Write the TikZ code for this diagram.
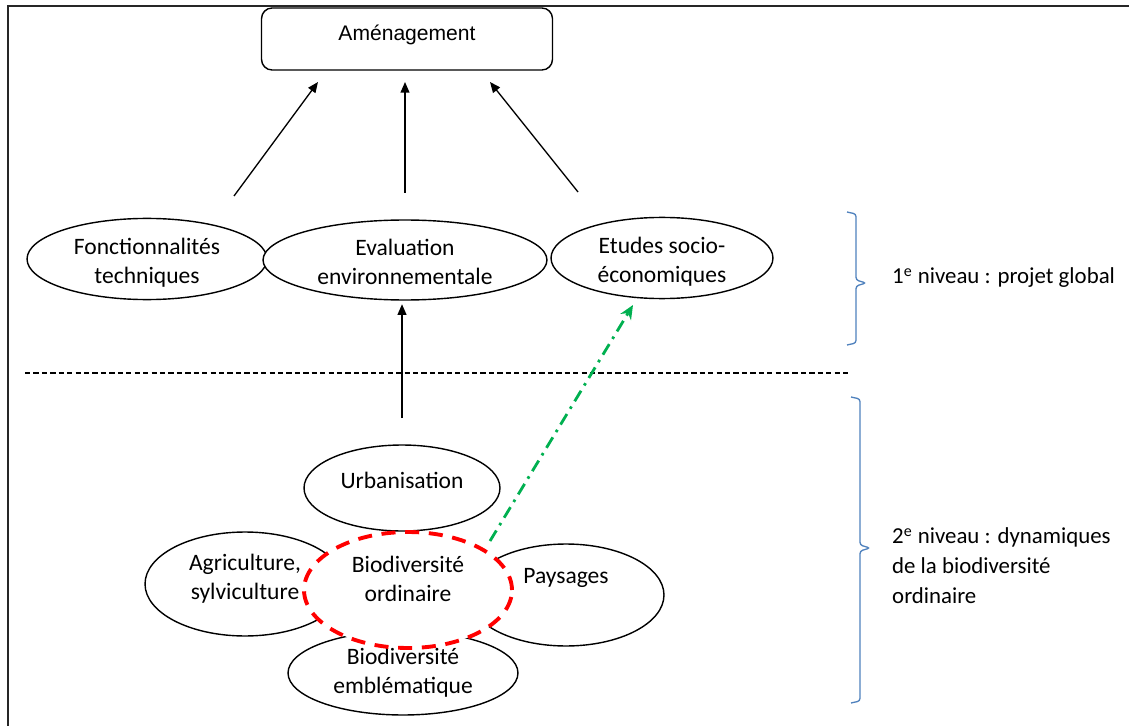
\documentclass[tikz,border=0pt]{standalone}
\usepackage{fontspec}
\setmainfont{Carlito}
\newfontfamily\arialfont{Liberation Sans}
\usetikzlibrary{shapes.geometric,arrows.meta}
\definecolor{bracecol}{RGB}{79,129,189}
\definecolor{greenarr}{RGB}{0,176,80}
\definecolor{redline}{RGB}{255,0,0}
\begin{document}
\begin{tikzpicture}[x=0.02cm,y=-0.02cm,
    oval/.style={ellipse,draw,fill=white,inner sep=0pt,align=center,line width=0.8pt,
      font=\fontsize{13.4}{16.5}\selectfont},
    arr/.style={-{Triangle[length=6pt,width=5pt]},line width=0.75pt},
    brace/.style={draw=bracecol,line width=0.75pt,rounded corners=1.5pt}]
    \useasboundingbox (0,0) rectangle (1129,726);
    \draw[line width=1.2pt,black!85] (8,726) -- (8,6) -- (1129,6);

    \node[draw,rounded corners=6pt,line width=0.8pt,minimum width=5.82cm,minimum height=1.24cm,
      text depth=7pt,font=\arialfont\fontsize{12}{14}\selectfont] (amen) at (407,39) {Aménagement};

    \node[oval,minimum width=4.8cm,minimum height=1.44cm,text height=30.5pt] (fonct) at (147,259) {Fonctionnalités\\techniques};
    \node[oval,minimum width=5.68cm,minimum height=1.6cm,text height=28.5pt] (evalu) at (405,260) {Evaluation\\environnementale};
    \node[oval,minimum width=4.44cm,minimum height=1.48cm,text height=30.5pt] (etudes) at (662,258) {Etudes socio-\\économiques};

    \coordinate (f1) at (234,196);
    \coordinate (f2) at (318,82);
    \coordinate (e1) at (405,193);
    \coordinate (e2) at (405,82);
    \coordinate (s1) at (578,192);
    \coordinate (s2) at (490,82);
    \draw[arr] (f1) -- (f2);
    \draw[arr] (e1) -- (e2);
    \draw[arr] (s1) -- (s2);

    \draw[line width=0.6pt,dash pattern=on 3pt off 1.8pt] (25,373) -- (850,373);

    \node[oval,minimum width=3.92cm,minimum height=1.72cm,text depth=9pt] (urban) at (402,488) {Urbanisation};
    \node[oval,minimum width=4cm,minimum height=2.08cm,text depth=8.5pt] (agri) at (245,584) {Agriculture,\\sylviculture};
    \node[oval,minimum width=3.92cm,minimum height=2.04cm,text depth=22pt] (pays) at (566,595) {Paysages};
    \node[oval,minimum width=4.6cm,minimum height=1.68cm] (embl) at (403,673) {Biodiversité\\emblématique};
    \node[oval,draw=redline,line width=2.2pt,dash pattern=on 8pt off 5.5pt,
      minimum width=4.16cm,minimum height=2.32cm,text depth=12.5pt] (bioord) at (408,590) {Biodiversité\\ordinaire};

    \coordinate (u1) at (402,418);
    \draw[arr] (u1) -- ([yshift=-2pt]u1 |- evalu.south);

    \coordinate (g1) at (490,541);
    \coordinate (g2) at (633,305);
    \draw[-{Stealth[length=8pt,width=7pt]},draw=greenarr,line width=1.6pt,
      dash pattern=on 7pt off 3.5pt on 1.5pt off 3.5pt] (g1) -- (g2);

    \draw[brace] (847,212) -- (856,214) -- (856,280) -- (866,283) -- (856,286) -- (856,343) -- (847,345);
    \draw[brace] (851,397) -- (860,399) -- (860,545) -- (870,548) -- (860,551) -- (860,701) -- (851,703);

    \node[anchor=west,font=\fontsize{13}{17}\selectfont] (lvl1) at (886,278) {1\textsuperscript{e} niveau : projet global};
    \node[anchor=west,align=left,font=\fontsize{13}{17}\selectfont] (lvl2) at (886,566)
      {2\textsuperscript{e} niveau : dynamiques\\de la biodiversité\\ordinaire};
\end{tikzpicture}
\end{document}
